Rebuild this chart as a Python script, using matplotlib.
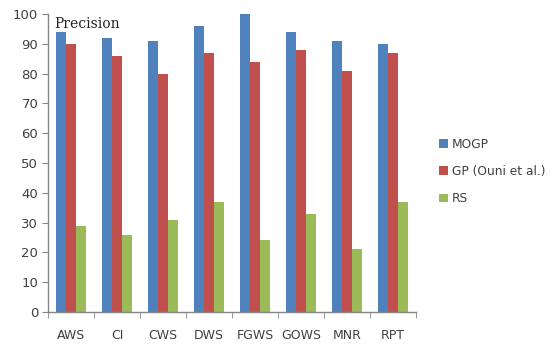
import matplotlib.pyplot as plt
import numpy as np

categories = ["AWS", "CI", "CWS", "DWS", "FGWS", "GOWS", "MNR", "RPT"]
mogp = [94, 92, 91, 96, 100, 94, 91, 90]
gp_ouni = [90, 86, 80, 87, 84, 88, 81, 87]
rs = [29, 26, 31, 37, 24, 33, 21, 37]
series_names = ["MOGP", "GP (Ouni et al.)", "RS"]
colors = ["#4F81BD", "#C0504D", "#9BBB59"]

fig = plt.figure(figsize=(5.52, 3.45), dpi=100)
ax = fig.add_axes([0.087, 0.0957, 0.6666, 0.8637])

x = np.arange(len(categories))
w = 0.217
for i, (vals, name, c) in enumerate(zip([mogp, gp_ouni, rs], series_names, colors)):
    ax.bar(x + (i - 1) * w, vals, width=w, color=c, label=name, linewidth=0)

ax.set_xlim(-0.5, len(categories) - 0.5)
ax.set_ylim(0, 100)
ax.set_yticks(range(0, 101, 10))
ax.set_xticks(x)
ax.set_xticklabels(categories)
ax.set_xticks(np.arange(-0.5, len(categories)), minor=True)
ax.tick_params(axis="x", which="major", length=0, pad=12, labelsize=9, labelcolor="#404040")
ax.tick_params(axis="x", which="minor", length=4, color="#868686", direction="out")
ax.tick_params(axis="y", length=4, color="#868686", labelsize=9.5, labelcolor="#404040", pad=3)

for s in ["top", "right"]:
    ax.spines[s].set_visible(False)
for s in ["left", "bottom"]:
    ax.spines[s].set_color("#868686")
    ax.spines[s].set_linewidth(1.0)

ax.text(0.017, 0.99, "Precision", transform=ax.transAxes, ha="left", va="top",
        family="DejaVu Serif", fontsize=10, color="#222222")

fig.legend(loc="upper left", bbox_to_anchor=(0.776, 0.632), frameon=False,
           fontsize=8.8, labelcolor="#404040", handlelength=0.7, handleheight=0.7,
           handletextpad=0.3, labelspacing=1.15)

fig.savefig("out.png", dpi=100)
